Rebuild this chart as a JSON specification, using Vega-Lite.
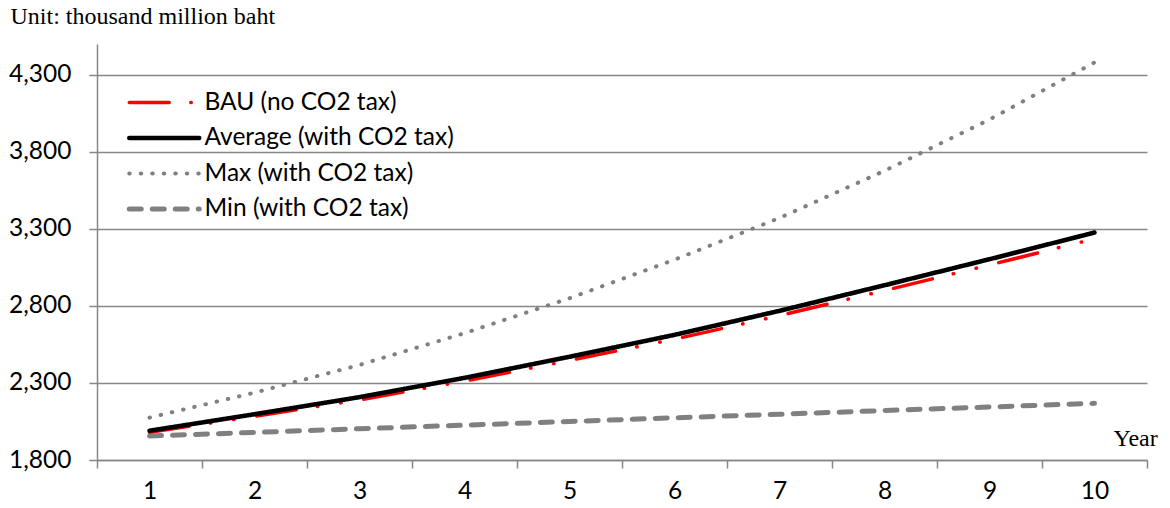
{
  "$schema": "https://vega.github.io/schema/vega-lite/v6.json",
  "autosize": {"type": "none"},
  "padding": {"left": 97, "top": 44, "right": 23, "bottom": 48},
  "width": 1050,
  "height": 416,
  "background": "white",
  "config": {
    "view": {"stroke": null},
    "axis": {"labelFont": "Lato", "labelFontSize": 24.5, "labelColor": "#000000", "domainColor": "#878787", "domainWidth": 1.5, "tickColor": "#878787", "tickWidth": 1.5, "gridColor": "#878787", "gridWidth": 1.5}
  },
  "data": {
    "values": [
      {"year": 1, "series": "Max (with CO2 tax)", "value": 2075},
      {"year": 2, "series": "Max (with CO2 tax)", "value": 2237},
      {"year": 3, "series": "Max (with CO2 tax)", "value": 2417},
      {"year": 4, "series": "Max (with CO2 tax)", "value": 2623},
      {"year": 5, "series": "Max (with CO2 tax)", "value": 2850},
      {"year": 6, "series": "Max (with CO2 tax)", "value": 3100},
      {"year": 7, "series": "Max (with CO2 tax)", "value": 3371},
      {"year": 8, "series": "Max (with CO2 tax)", "value": 3677},
      {"year": 9, "series": "Max (with CO2 tax)", "value": 4010},
      {"year": 10, "series": "Max (with CO2 tax)", "value": 4380},
      {"year": 1, "series": "Min (with CO2 tax)", "value": 1956},
      {"year": 2, "series": "Min (with CO2 tax)", "value": 1979},
      {"year": 3, "series": "Min (with CO2 tax)", "value": 2003},
      {"year": 4, "series": "Min (with CO2 tax)", "value": 2026},
      {"year": 5, "series": "Min (with CO2 tax)", "value": 2050},
      {"year": 6, "series": "Min (with CO2 tax)", "value": 2074},
      {"year": 7, "series": "Min (with CO2 tax)", "value": 2097},
      {"year": 8, "series": "Min (with CO2 tax)", "value": 2121},
      {"year": 9, "series": "Min (with CO2 tax)", "value": 2144},
      {"year": 10, "series": "Min (with CO2 tax)", "value": 2168},
      {"year": 1, "series": "BAU (no CO2 tax)", "value": 1980},
      {"year": 2, "series": "BAU (no CO2 tax)", "value": 2083},
      {"year": 3, "series": "BAU (no CO2 tax)", "value": 2190},
      {"year": 4, "series": "BAU (no CO2 tax)", "value": 2312},
      {"year": 5, "series": "BAU (no CO2 tax)", "value": 2446},
      {"year": 6, "series": "BAU (no CO2 tax)", "value": 2584},
      {"year": 7, "series": "BAU (no CO2 tax)", "value": 2737},
      {"year": 8, "series": "BAU (no CO2 tax)", "value": 2900},
      {"year": 9, "series": "BAU (no CO2 tax)", "value": 3066},
      {"year": 10, "series": "BAU (no CO2 tax)", "value": 3236},
      {"year": 1, "series": "Average (with CO2 tax)", "value": 1990},
      {"year": 2, "series": "Average (with CO2 tax)", "value": 2097},
      {"year": 3, "series": "Average (with CO2 tax)", "value": 2208},
      {"year": 4, "series": "Average (with CO2 tax)", "value": 2333},
      {"year": 5, "series": "Average (with CO2 tax)", "value": 2470},
      {"year": 6, "series": "Average (with CO2 tax)", "value": 2612},
      {"year": 7, "series": "Average (with CO2 tax)", "value": 2768},
      {"year": 8, "series": "Average (with CO2 tax)", "value": 2934},
      {"year": 9, "series": "Average (with CO2 tax)", "value": 3103},
      {"year": 10, "series": "Average (with CO2 tax)", "value": 3276}
    ]
  },
  "mark": {"type": "line", "strokeCap": "round", "strokeJoin": "round"},
  "encoding": {
    "x": {
      "field": "year", "type": "quantitative",
      "scale": {"domain": [0.5, 10.5], "nice": false, "zero": false},
      "axis": {
        "values": [0.5, 1.5, 2.5, 3.5, 4.5, 5.5, 6.5, 7.5, 8.5, 9.5, 10.5],
        "labelExpr": "datum.value > 10 ? '' : format(datum.value + 0.5, 'd')",
        "labelOffset": 52.5, "labelBound": false, "labelOverlap": false, "labelFlush": false,
        "grid": false, "tickSize": 8, "labelPadding": 11,
        "title": "Year", "titleFont": "Liberation Serif", "titleFontSize": 24, "titleFontWeight": "normal", "titleColor": "#000000",
        "titleX": 1016, "titleY": -15, "titleAlign": "left", "titleBaseline": "alphabetic", "titleAngle": 0
      }
    },
    "y": {
      "field": "value", "type": "quantitative",
      "scale": {"domain": [1800, 4500], "nice": false, "zero": false},
      "axis": {
        "values": [1800, 2300, 2800, 3300, 3800, 4300],
        "format": ",d", "grid": true, "tickSize": 8, "labelPadding": 18,
        "title": "Unit: thousand million baht", "titleFont": "Liberation Serif", "titleFontSize": 24, "titleFontWeight": "normal", "titleColor": "#000000",
        "titleAngle": 0, "titleX": -87, "titleY": -21, "titleAlign": "left", "titleBaseline": "alphabetic"
      }
    },
    "color": {
      "field": "series", "type": "nominal",
      "scale": {"domain": ["BAU (no CO2 tax)", "Average (with CO2 tax)", "Max (with CO2 tax)", "Min (with CO2 tax)"], "range": ["#FF0000", "#000000", "#808080", "#808080"]},
      "legend": {
        "orient": "none", "legendX": 55, "legendY": 46.25, "direction": "vertical", "title": null,
        "padding": 0, "symbolType": "M-5.833,0H5.833", "symbolSize": 144, "symbolFillColor": "transparent",
        "labelFont": "Lato", "labelFontSize": 24.5, "labelColor": "#000000", "labelOffset": 28, "rowPadding": 10.5, "labelLimit": 0,
        "encode": {"symbols": {"update": {"strokeCap": {"value": "round"}, "strokeWidth": {"signal": "datum.value == 'Average (with CO2 tax)' ? 4.5 : datum.value == 'Min (with CO2 tax)' ? 5 : datum.value == 'Max (with CO2 tax)' ? 3.5 : 3.5"}}}}
      }
    },
    "strokeDash": {
      "field": "series", "type": "nominal",
      "scale": {"domain": ["BAU (no CO2 tax)", "Average (with CO2 tax)", "Max (with CO2 tax)", "Min (with CO2 tax)"], "range": [[40, 21.5, 0.5, 23, 0.5, 22.8], [1, 0], [0.5, 11], [12, 11]]}
    },
    "strokeWidth": {
      "field": "series", "type": "nominal",
      "scale": {"type": "ordinal", "domain": ["BAU (no CO2 tax)", "Average (with CO2 tax)", "Max (with CO2 tax)", "Min (with CO2 tax)"], "range": [3.5, 4.5, 4, 5]},
      "legend": null
    }
  }
}
